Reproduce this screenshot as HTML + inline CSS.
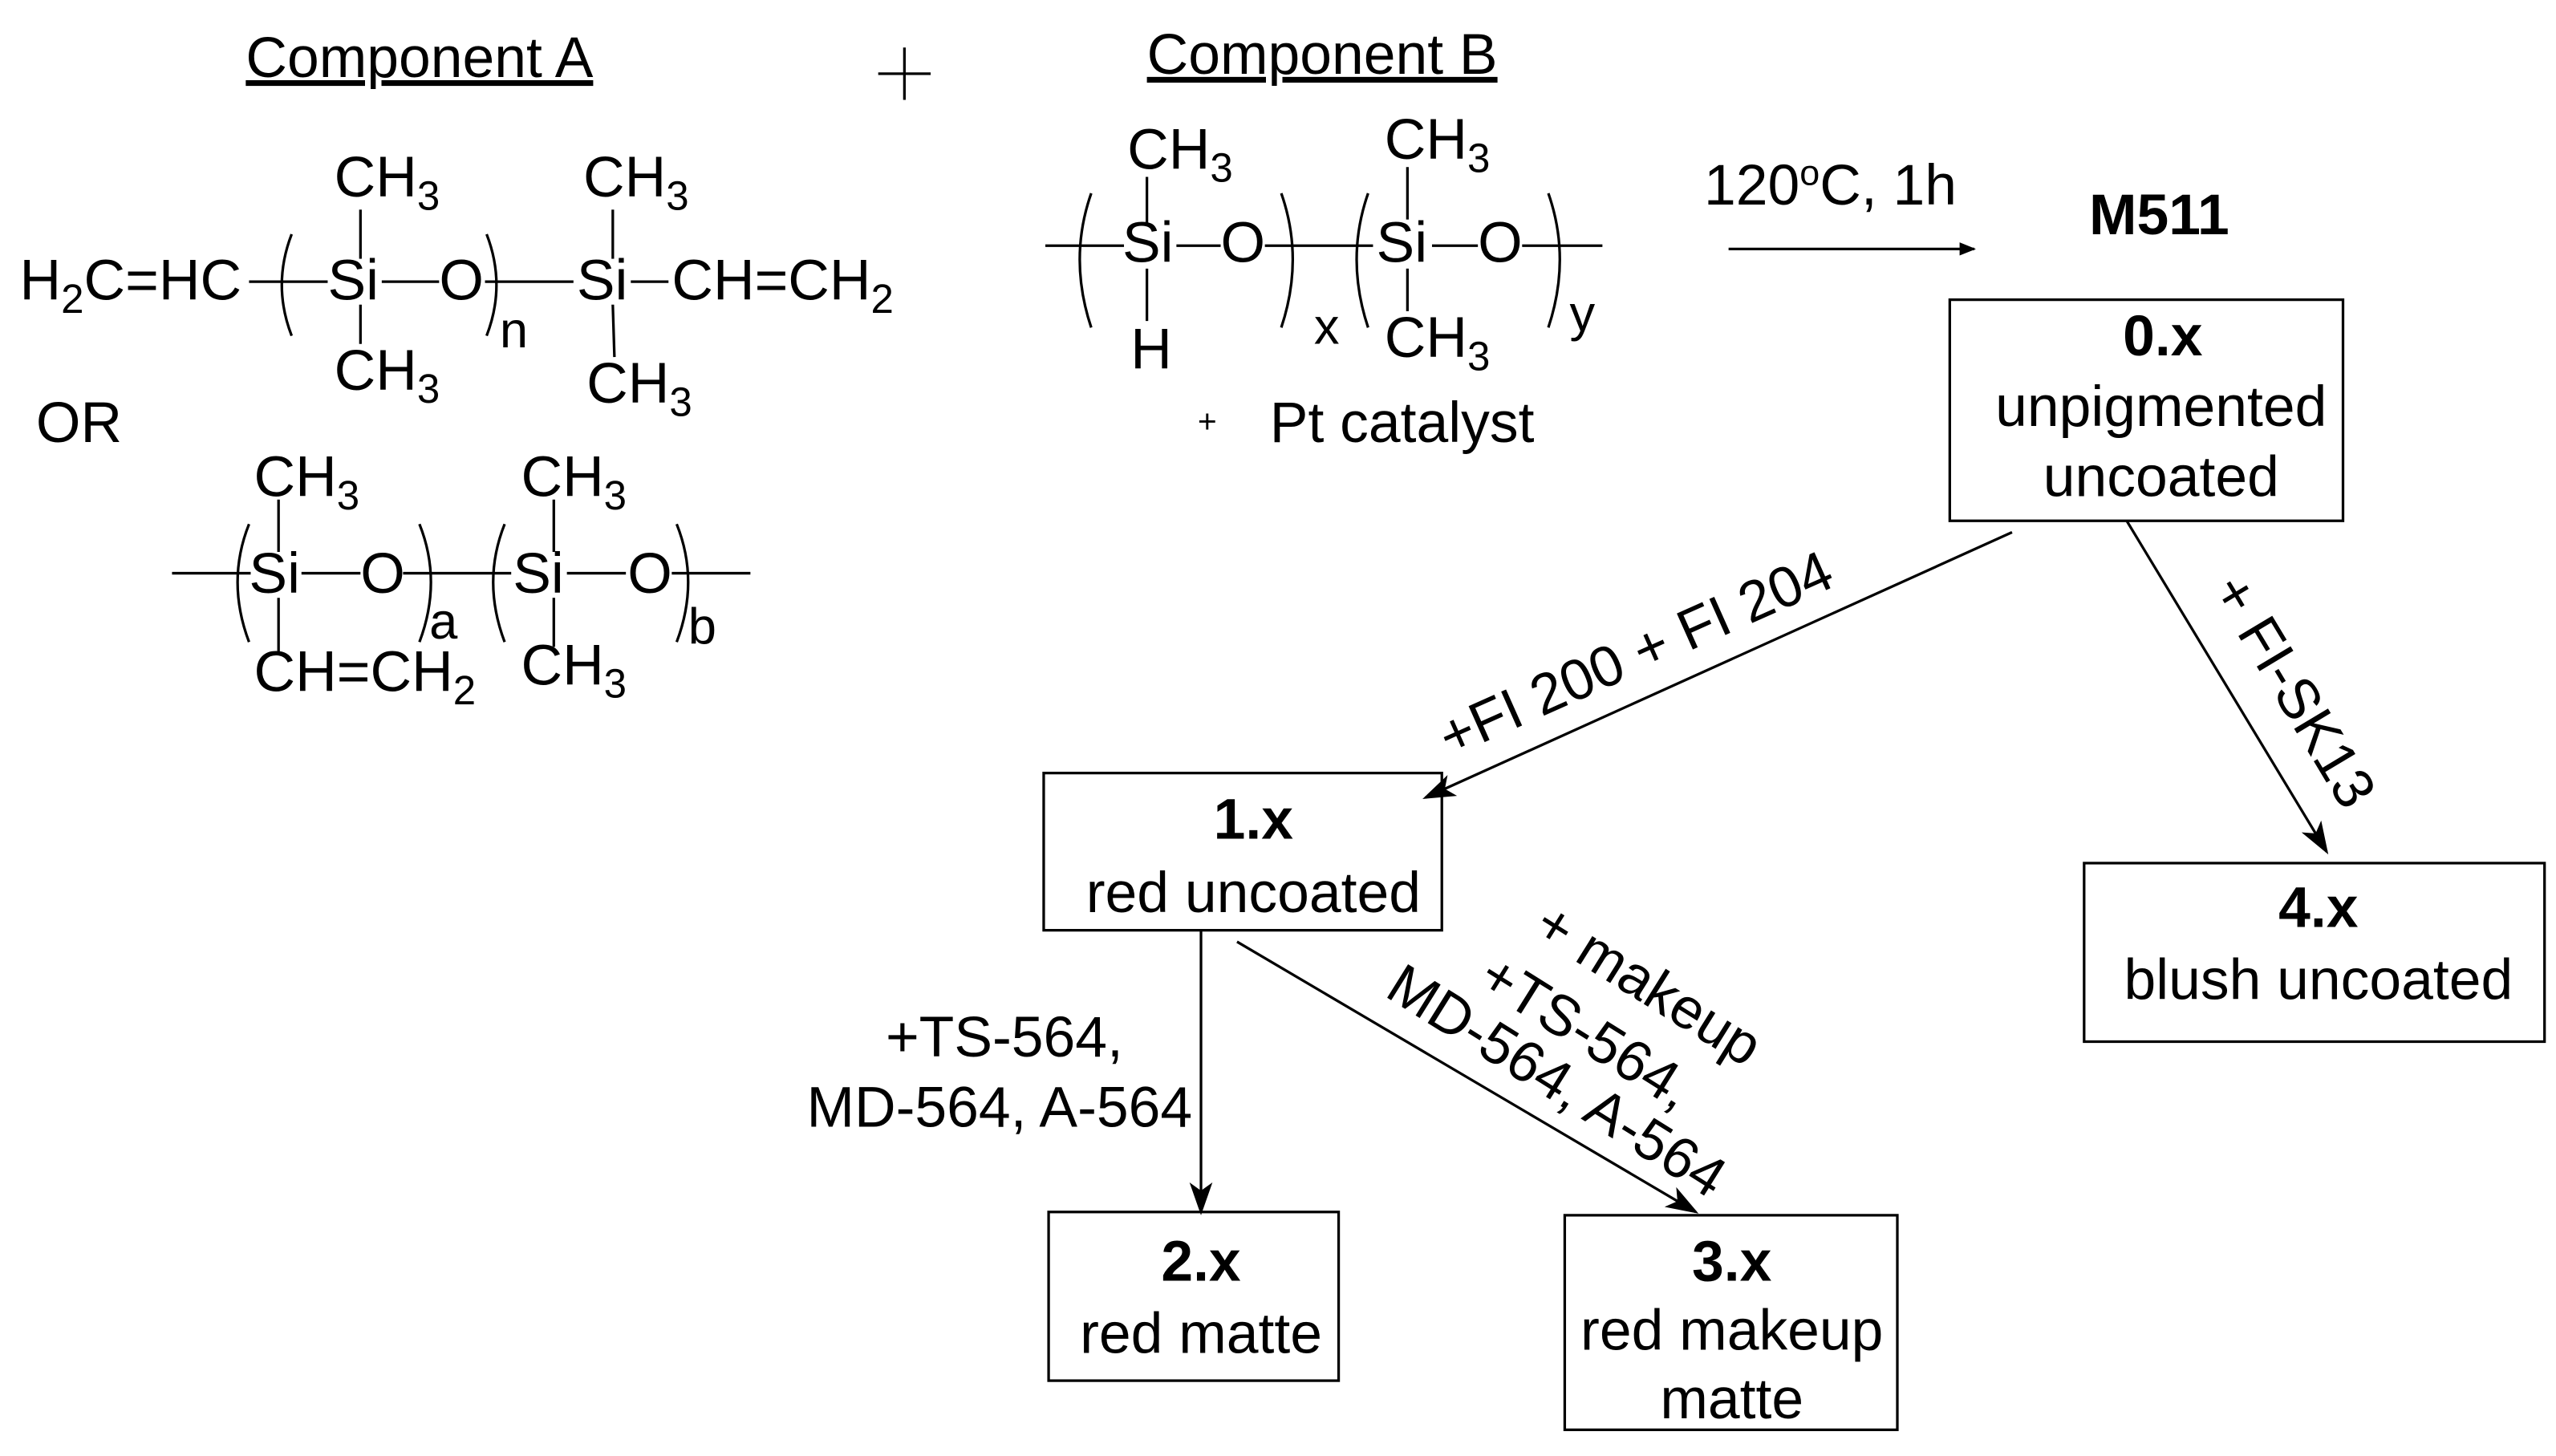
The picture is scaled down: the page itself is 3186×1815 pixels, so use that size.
<!DOCTYPE html>
<html><head><meta charset="utf-8"><style>html,body{margin:0;padding:0;background:#fff}svg{display:block}</style></head>
<body>
<svg width="3186" height="1815" viewBox="0 0 1560 889" preserveAspectRatio="none" xmlns="http://www.w3.org/2000/svg" font-family="Liberation Sans, Arial, sans-serif" font-size="35" fill="#000">
<defs>
<marker id="ah" markerWidth="10" markerHeight="8" refX="9" refY="4" orient="auto" markerUnits="userSpaceOnUse" viewBox="0 0 10 8"><path d="M0,0 L10,4 L0,8 Z" fill="#000"/></marker>
<marker id="ah2" markerWidth="20" markerHeight="14" refX="18" refY="7" orient="auto" markerUnits="userSpaceOnUse" viewBox="0 0 20 14"><path d="M0,0 L20,7 L0,14 L5,7 Z" fill="#000"/></marker></defs>
<g stroke="#000" stroke-width="1.6" fill="none">
<line x1="536" y1="45" x2="568" y2="45"/><line x1="552" y1="29" x2="552" y2="61"/>
<!-- struct A1 -->
<line x1="152" y1="172" x2="200" y2="172"/><path d="M178,143 Q166,174 178,205"/>
<line x1="233" y1="172" x2="268" y2="172"/><line x1="296" y1="172" x2="350" y2="172"/><path d="M297,143 Q309,174 297,205"/>
<line x1="385" y1="172" x2="408" y2="172"/>
<line x1="220" y1="128" x2="220" y2="158"/><line x1="220" y1="186" x2="220" y2="210"/>
<line x1="374" y1="128" x2="374" y2="158"/><line x1="374" y1="186" x2="375" y2="218"/>
<!-- struct A2 -->
<line x1="105" y1="350" x2="153" y2="350"/><path d="M152,320 Q138,355 152,392"/>
<line x1="184" y1="350" x2="220" y2="350"/><line x1="246" y1="350" x2="312" y2="350"/>
<path d="M256,320 Q270,355 256,392"/><path d="M308,320 Q294,355 308,392"/>
<line x1="346" y1="350" x2="382" y2="350"/><line x1="410" y1="350" x2="458" y2="350"/>
<path d="M413,320 Q427,355 413,392"/>
<line x1="170" y1="305" x2="170" y2="337"/><line x1="170" y1="365" x2="170" y2="398"/>
<line x1="338" y1="305" x2="338" y2="337"/><line x1="338" y1="365" x2="338" y2="395"/>
<!-- struct B -->
<line x1="638" y1="150" x2="686" y2="150"/><path d="M666,118 Q652,158 666,200"/>
<line x1="718" y1="150" x2="745" y2="150"/><line x1="772" y1="150" x2="838" y2="150"/>
<path d="M782,118 Q796,158 782,200"/><path d="M835,118 Q821,158 835,200"/>
<line x1="874" y1="150" x2="902" y2="150"/><line x1="929" y1="150" x2="978" y2="150"/>
<path d="M945,118 Q959,158 945,200"/>
<line x1="700" y1="108" x2="700" y2="136"/><line x1="700" y1="164" x2="700" y2="196"/>
<line x1="859" y1="102" x2="859" y2="134"/><line x1="859" y1="164" x2="859" y2="190"/>
<!-- boxes -->
<rect x="1190" y="183" width="240" height="135"/>
<rect x="637" y="472" width="243" height="96"/>
<rect x="1272" y="527" width="281" height="109"/>
<rect x="640" y="740" width="177" height="103"/>
<rect x="955" y="742" width="203" height="131"/>
<!-- arrows -->
<line x1="1055" y1="152" x2="1205" y2="152" marker-end="url(#ah)"/>
<line x1="1228" y1="325" x2="870" y2="487" marker-end="url(#ah2)"/>
<line x1="1298" y1="318" x2="1420" y2="520" marker-end="url(#ah2)"/>
<line x1="733" y1="568" x2="733" y2="740" marker-end="url(#ah2)"/>
<line x1="755" y1="575" x2="1035" y2="740" marker-end="url(#ah2)"/>
</g>
<text x="150" y="47" text-decoration="underline">Component A</text>
<text x="700" y="45" text-decoration="underline">Component B</text>
<!-- A1 -->
<text x="12" y="183">H<tspan font-size="25" dy="8">2</tspan><tspan dy="-8">C=HC</tspan></text>
<text x="200" y="183">Si</text><text x="268" y="183">O</text>
<text x="352" y="183">Si</text><text x="410" y="183">CH=CH<tspan font-size="25" dy="8">2</tspan></text>
<text x="204" y="120">CH<tspan font-size="25" dy="8">3</tspan></text>
<text x="204" y="238">CH<tspan font-size="25" dy="8">3</tspan></text>
<text x="356" y="120">CH<tspan font-size="25" dy="8">3</tspan></text>
<text x="358" y="246">CH<tspan font-size="25" dy="8">3</tspan></text>
<text x="305" y="212" font-size="31">n</text>
<text x="22" y="270">OR</text>
<!-- A2 -->
<text x="152" y="362">Si</text><text x="220" y="362">O</text>
<text x="313" y="362">Si</text><text x="383" y="362">O</text>
<text x="155" y="303">CH<tspan font-size="25" dy="8">3</tspan></text>
<text x="155" y="422">CH=CH<tspan font-size="25" dy="8">2</tspan></text>
<text x="318" y="303">CH<tspan font-size="25" dy="8">3</tspan></text>
<text x="318" y="418">CH<tspan font-size="25" dy="8">3</tspan></text>
<text x="262" y="390" font-size="31">a</text><text x="420" y="393" font-size="31">b</text>
<!-- B -->
<text x="685" y="160">Si</text><text x="745" y="160">O</text>
<text x="840" y="160">Si</text><text x="902" y="160">O</text>
<text x="688" y="103">CH<tspan font-size="25" dy="8">3</tspan></text>
<text x="690" y="225">H</text>
<text x="845" y="97">CH<tspan font-size="25" dy="8">3</tspan></text>
<text x="845" y="218">CH<tspan font-size="25" dy="8">3</tspan></text>
<text x="802" y="210" font-size="31">x</text><text x="958" y="202" font-size="31">y</text>
<text x="731" y="264" font-size="20">+</text><text x="775" y="270">Pt catalyst</text>
<text x="1040" y="125">120<tspan font-size="22" dy="-12">o</tspan><tspan dy="12">C, 1h</tspan></text>
<text x="1275" y="143" font-weight="bold">M511</text>
<g text-anchor="middle">
<text x="1320" y="217" font-weight="bold">0.x</text><text x="1319" y="260">unpigmented</text><text x="1319" y="303">uncoated</text>
<text x="765" y="512" font-weight="bold">1.x</text><text x="765" y="557">red uncoated</text>
<text x="1415" y="566" font-weight="bold">4.x</text><text x="1415" y="610">blush uncoated</text>
<text x="733" y="782" font-weight="bold">2.x</text><text x="733" y="826">red matte</text>
<text x="1057" y="782" font-weight="bold">3.x</text><text x="1057" y="824">red makeup</text><text x="1057" y="866">matte</text>
<text x="613" y="645">+TS-564,</text><text x="610" y="688">MD-564, A-564</text>
<text transform="translate(1003,410) rotate(-24)">+FI 200 + FI 204</text>
<text transform="translate(1390,428) rotate(59)">+ FI-SK13</text>
<text transform="translate(1000,611) rotate(32)">+ makeup</text>
<text transform="translate(962,640) rotate(32)">+TS-564,</text>
<text transform="translate(944,670) rotate(32)">MD-564, A-564</text>
</g>
</svg>
</body></html>
